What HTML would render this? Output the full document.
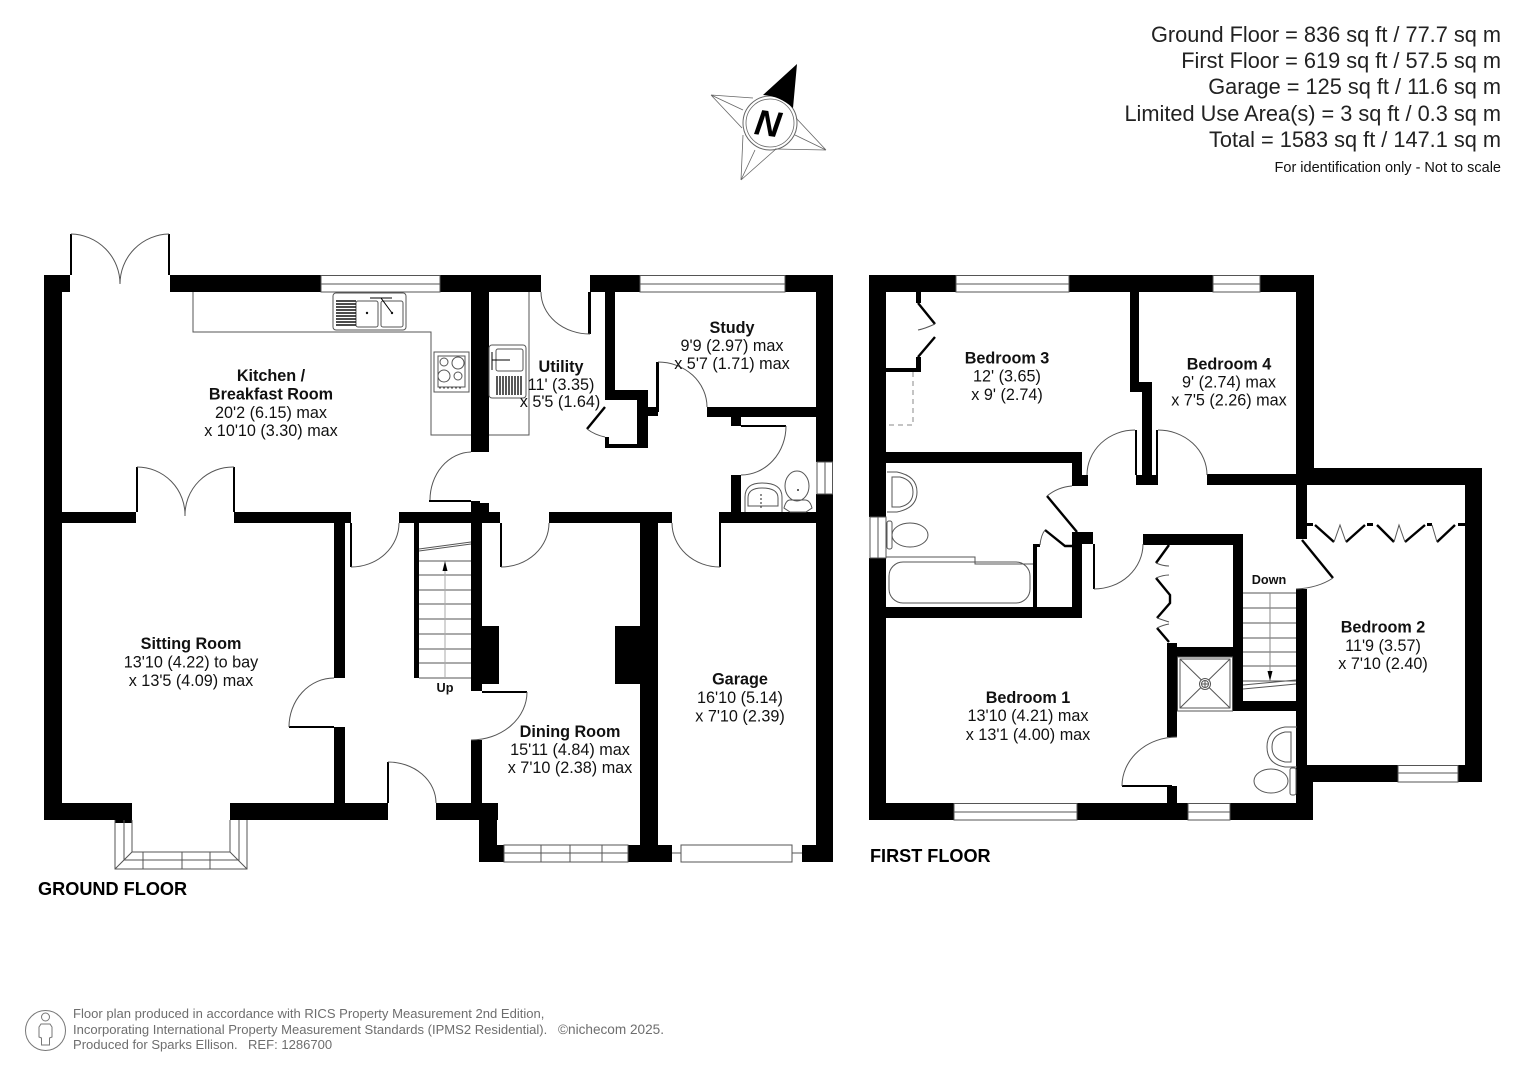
<!DOCTYPE html>
<html><head><meta charset="utf-8"><style>
html,body{margin:0;padding:0;background:#fff}
svg{display:block}
text{font-family:"Liberation Sans",Arial,sans-serif;fill:#111}
.b{font-weight:bold;font-size:16.2px;text-anchor:middle}
.r{font-size:16.2px;text-anchor:middle}
.h{font-size:21.75px;text-anchor:end;fill:#222}
.f{font-size:13.05px;fill:#6e6e6e}
.t{fill:none;stroke:#555;stroke-width:1}
.l{fill:none;stroke:#000;stroke-width:2.4}
.w{fill:#fff;stroke:#555;stroke-width:1}
</style></head><body>
<svg width="1527" height="1080" viewBox="0 0 1527 1080" xmlns="http://www.w3.org/2000/svg">
<rect width="1527" height="1080" fill="#fff"/>

<!-- header -->
<text class="h" x="1501" y="42">Ground Floor = 836 sq ft / 77.7 sq m</text>
<text class="h" x="1501" y="68">First Floor = 619 sq ft / 57.5 sq m</text>
<text class="h" x="1501" y="94">Garage = 125 sq ft / 11.6 sq m</text>
<text class="h" x="1501" y="121">Limited Use Area(s) = 3 sq ft / 0.3 sq m</text>
<text class="h" x="1501" y="147">Total = 1583 sq ft / 147.1 sq m</text>
<text x="1501" y="172" text-anchor="end" font-size="14.5">For identification only - Not to scale</text>

<!-- compass -->
<g fill="none" stroke="#666" stroke-width="0.8">
<path d="M711 95L753 98M711 95L742 128M711 95L743 110M826 150L796 118M826 150L775 149M826 150L795 135M741 180L743 135M741 180L776 149M741 180L755 150"/>
<circle cx="770" cy="123" r="27" stroke-width="1"/><circle cx="770" cy="123" r="24"/>
</g>
<path d="M763 95L797 64L793 108Q780 96 763 95Z" fill="#000"/>
<text x="768" y="136" text-anchor="middle" font-size="36" font-weight="bold" font-style="italic" transform="rotate(8 769 123)" style="fill:#000">N</text>

<!-- GROUND FLOOR walls -->
<g fill="#000">
<rect x="44" y="275" width="26" height="17"/><rect x="170" y="275" width="151" height="17"/>
<rect x="440" y="275" width="101" height="17"/><rect x="590" y="275" width="50" height="17"/><rect x="785" y="275" width="48" height="17"/>
<rect x="44" y="275" width="18" height="545"/>
<rect x="816" y="275" width="17" height="187"/><rect x="816" y="494" width="17" height="368"/>
<rect x="471" y="275" width="18" height="177"/>
<rect x="471" y="501" width="9" height="22"/><rect x="480" y="503" width="9" height="20"/>
<rect x="471" y="512" width="11" height="179"/><rect x="482" y="512" width="18" height="11"/>
<rect x="44" y="512" width="92" height="11"/><rect x="234" y="512" width="117" height="11"/>
<rect x="399" y="512" width="72" height="11"/><rect x="549" y="512" width="123" height="11"/><rect x="719" y="512" width="114" height="11"/>
<rect x="334" y="512" width="11" height="166"/><rect x="334" y="727" width="11" height="76"/>
<rect x="44" y="803" width="88" height="17"/><rect x="115" y="820" width="17" height="3"/>
<rect x="230" y="803" width="158" height="17"/><rect x="436" y="803" width="62" height="17"/>
<rect x="414" y="523" width="5" height="155"/>
<rect x="471" y="740" width="11" height="63"/>
<rect x="479" y="803" width="18" height="59"/><rect x="479" y="845" width="25" height="17"/>
<rect x="628" y="845" width="44" height="17"/><rect x="640" y="512" width="18" height="350"/><rect x="802" y="845" width="31" height="17"/>
<rect x="482" y="626" width="17" height="58"/><rect x="615" y="626" width="25" height="58"/>
<rect x="605" y="292" width="10" height="108"/><rect x="605" y="390" width="43" height="10"/><rect x="637" y="390" width="11" height="58"/>
<rect x="605" y="444" width="43" height="4"/><rect x="605" y="437" width="4" height="11"/>
<rect x="648" y="407" width="10" height="9"/><rect x="656" y="362" width="3" height="50"/>
<rect x="707" y="407" width="109" height="10"/><rect x="731" y="417" width="10" height="9"/><rect x="731" y="475" width="10" height="37"/>
<!-- door leaves -->
<rect x="70" y="234" width="2" height="41"/><rect x="168" y="234" width="2" height="41"/>
<rect x="136" y="467" width="2" height="45"/><rect x="233" y="467" width="2" height="45"/>
<rect x="429" y="500" width="42" height="2"/>
<rect x="350" y="523" width="2" height="44"/><rect x="289" y="726" width="45" height="2"/>
<rect x="387" y="762" width="2" height="41"/><rect x="500" y="523" width="2" height="44"/>
<rect x="719" y="523" width="2" height="44"/><rect x="482" y="691" width="45" height="2"/>
<rect x="588" y="292" width="3" height="42"/><rect x="741" y="425" width="45" height="2"/>
</g>
<path class="l" d="M605 407L587 429"/>
<!-- door arcs -->
<g class="t">
<path d="M71 234A50 50 0 0 1 120 284M169 234A50 50 0 0 0 120 284"/>
<path d="M137 467A48 48 0 0 1 185 516M234 467A48 48 0 0 0 185 516"/>
<path d="M471 452A42 48 0 0 0 430 500"/>
<path d="M351 567A48 44 0 0 0 399 523"/>
<path d="M334 678A45 49 0 0 0 289 727"/>
<path d="M388 762A48 41 0 0 1 436 803"/>
<path d="M501 567A48 44 0 0 0 549 523"/>
<path d="M720 567A48 44 0 0 1 672 523"/>
<path d="M527 692A56 48 0 0 1 471 740"/>
<path d="M541 292A49 42 0 0 0 590 334"/>
<path d="M658 362A49 45 0 0 1 707 407"/>
<path d="M786 426A45 49 0 0 1 741 475"/>
<path d="M587 429Q595 435 605 437"/>
<!-- kitchen counter -->
<path d="M193 292V332H431V435H471"/>
<path d="M489 435H529V292"/>
</g>
<!-- windows -->
<g class="w">
<rect x="321" y="275.5" width="119" height="16.5"/><path d="M321 284H440"/>
<rect x="640" y="275.5" width="145" height="16.5"/><path d="M640 284H785"/>
<rect x="817" y="462" width="15.5" height="32"/><path d="M825 462V494"/>
<rect x="504" y="845" width="124" height="17"/><path d="M504 853H628M541 845V862M570 845V862M602 845V862"/>
<rect x="681" y="845" width="111" height="17"/><path d="M672 853H681M792 853H802"/>
</g>
<!-- bay -->
<g class="t">
<path d="M115 820V869H247V820M132 820V852H230V820M124 820V860H239V820M115 869L132 852M247 869L230 852M143 852V869M182 852V869M210 852V869"/>
</g>
<!-- stairs -->
<g class="t" stroke="#444">
<path d="M419 561H471M419 575H471M419 590H471M419 604H471M419 619H471M419 634H471M419 649H471M419 663H471M419 678H471M419 549L471 542M419 551L471 544"/>
<path d="M445 678V571" stroke="#aaa"/>
</g>
<path d="M445 561L447.500 571H442.500Z" fill="#000"/>
<!-- sink kitchen -->
<g class="t">
<rect x="333" y="293" width="73" height="37" rx="3"/>
<rect x="356" y="301" width="22" height="26" rx="2"/><rect x="381" y="301" width="22" height="26" rx="2"/>
<path d="M381 298H370M381 298H392M381 298L392 313" stroke="#000"/>
<path d="M336 301H356M336 304H356M336 307H356M336 310H356M336 313H356M336 316H356M336 319H356M336 322H356M336 325H356" stroke="#111" stroke-width="1.4"/>
<!-- hob -->
<rect x="434" y="352" width="35" height="40"/><rect x="438" y="356" width="27" height="31"/>
<circle cx="444" cy="362" r="4"/><circle cx="458" cy="363" r="6"/><circle cx="444" cy="376" r="6"/><circle cx="458" cy="376" r="4"/>
<path d="M439 388H462" stroke-dasharray="2 2"/>
<!-- utility sink -->
<rect x="489" y="345" width="37" height="53" rx="3"/><rect x="496" y="349" width="27" height="22" rx="2"/>
<path d="M492 352V370M492 360H510" stroke="#000"/>
<path d="M497 376V395M500 376V395M503 376V395M506 376V395M509 376V395M512 376V395M515 376V395M518 376V395M521 376V395" stroke="#111" stroke-width="1.4"/>
<!-- WC -->
<path d="M745 512V497Q745 483 762 483Q782 483 782 497V512"/>
<path d="M748 506V498Q748 488 762 488Q778 488 778 498V506Z"/><path d="M761 494V510" stroke-dasharray="2 2" stroke="#222"/>
<ellipse cx="797" cy="486" rx="12" ry="15"/><path d="M784 508Q786 500 790 500H805Q810 500 812 508L806 512H790Z"/>
</g>
<circle cx="798" cy="490" r="1" fill="#333"/>
<circle cx="367" cy="313" r="1.200" fill="#111"/><circle cx="392" cy="313" r="1.200" fill="#111"/>

<!-- FIRST FLOOR walls -->
<g fill="#000">
<rect x="869" y="275" width="87" height="17"/><rect x="1069" y="275" width="144" height="17"/><rect x="1260" y="275" width="54" height="17"/>
<rect x="869" y="275" width="17" height="242"/><rect x="869" y="558" width="17" height="262"/>
<rect x="869" y="803" width="85" height="17"/><rect x="1077" y="803" width="111" height="17"/><rect x="1230" y="803" width="83" height="17"/>
<rect x="1296" y="275" width="18" height="210"/>
<rect x="1296" y="468" width="186" height="17"/><rect x="1465" y="468" width="17" height="314"/>
<rect x="1296" y="485" width="11" height="54"/>
<rect x="1296" y="589" width="11" height="176"/><rect x="1296" y="765" width="17" height="55"/>
<rect x="1307" y="765" width="91" height="17"/><rect x="1458" y="765" width="24" height="17"/>
<rect x="1130" y="292" width="9" height="100"/><rect x="1130" y="382" width="22" height="10"/><rect x="1142" y="382" width="10" height="103"/>
<rect x="1136" y="475" width="22" height="10"/>
<rect x="1135" y="430" width="2" height="45"/><rect x="1156" y="430" width="2" height="45"/>
<rect x="1207" y="474" width="89" height="11"/>
<rect x="886" y="452" width="196" height="11"/><rect x="1072" y="452" width="10" height="34"/><rect x="1072" y="475" width="16" height="11"/>
<rect x="1072" y="532" width="10" height="86"/><rect x="1072" y="532" width="21" height="12"/>
<rect x="1093" y="544" width="2" height="45"/>
<rect x="886" y="607" width="196" height="11"/>
<rect x="1143" y="534" width="100" height="11"/><rect x="1233" y="534" width="10" height="177"/><rect x="1233" y="701" width="74" height="10"/>
<rect x="1167" y="643" width="10" height="94"/><rect x="1167" y="647" width="66" height="10"/><rect x="1167" y="786" width="10" height="17"/>
<rect x="1122" y="785" width="50" height="2"/>
<rect x="1033" y="545" width="4" height="62"/><rect x="1033" y="544" width="7" height="3"/>
<rect x="916" y="292" width="5" height="11"/><rect x="886" y="368" width="35" height="4"/><rect x="916" y="357" width="5" height="15"/>
<rect x="1307" y="523" width="6" height="3"/><rect x="1367" y="523" width="6" height="3"/><rect x="1427" y="523" width="5" height="3"/><rect x="1458" y="523" width="7" height="3"/>
</g>
<g class="l">
<path d="M1047 496L1077 532M1045 530L1065 546H1072"/>
<path d="M1302 540L1333 578"/>
<path d="M918 303L935 324M935 337L918 357"/>
<path d="M1315 525L1334 542M1346 542L1365 525M1377 525L1394 542M1405 542L1425 525M1437 542L1455 525"/>
<path d="M1169 545L1156 563M1156 578L1170 595V603L1157 618M1157 628L1169 642"/>
</g>
<g class="t">
<path d="M1135 430A48 45 0 0 0 1087 475"/>
<path d="M1158 430A49 45 0 0 1 1207 475"/>
<path d="M1072 486Q1058 487 1047 496"/>
<path d="M1094 589A49 45 0 0 0 1143 544"/>
<path d="M1177 737A55 49 0 0 0 1122 786"/>
<path d="M1333 578Q1318 588 1296 589"/>
<path d="M1040 545Q1041 535 1045 530"/>
<path d="M935 324Q924 329 918 330M935 337"/>
<path d="M1334 542L1340 525L1346 542M1394 542L1399 525L1405 542M1432 525L1437 542"/>
<path d="M1156 563Q1163 566 1169 566M1156 578Q1163 575 1169 575M1157 618Q1163 620 1169 622M1157 628Q1163 625 1169 624"/>
<path d="M913 372V425H886" stroke-dasharray="5 4" stroke="#888"/>
<path d="M886 557H975V564H1033M975 557"/>
<rect x="889" y="562" width="141" height="41" rx="14"/>
</g>
<g class="w">
<rect x="956" y="275.5" width="113" height="16.5"/><path d="M956 284H1069"/>
<rect x="1213" y="275.5" width="47" height="16.5"/><path d="M1213 284H1260"/>
<rect x="870" y="517" width="16" height="41"/><path d="M878 517V558"/>
<rect x="954" y="803.500" width="123" height="16.500"/><path d="M954 812H1077"/>
<rect x="1188" y="803.500" width="42" height="16.500"/><path d="M1188 812H1230"/>
<rect x="1398" y="765.500" width="60" height="16.500"/><path d="M1398 773H1458"/>
</g>
<g class="t">
<path d="M887 472H897Q917 476 917 492Q917 508 897 512H887"/>
<path d="M892 477H900Q913 480 913 492Q913 504 900 507H892Z"/>
<rect x="887" y="521" width="5" height="28" rx="2"/><ellipse cx="910" cy="535" rx="18" ry="12"/>
<rect x="1177.500" y="657" width="55" height="54"/><rect x="1180" y="659" width="50" height="49"/>
<path d="M1180 659L1230 708M1230 659L1180 708"/>
<circle cx="1205" cy="684" r="5.500" fill="#fff"/><circle cx="1205" cy="684" r="3.500"/><path d="M1202 684H1208M1205 681V687"/>
<path d="M1297 727H1285Q1267 730 1267 747Q1267 764 1285 767H1297"/>
<path d="M1291 732H1285Q1272 735 1272 747Q1272 759 1285 762H1291Z"/>
<ellipse cx="1271" cy="781" rx="17" ry="12"/><rect x="1290" y="768" width="6" height="27" rx="2"/>
</g>
<g class="t" stroke="#444">
<path d="M1243 593H1296M1243 608H1296M1243 623H1296M1243 638H1296M1243 652H1296M1243 666H1296M1243 681H1296M1243 685L1296 680M1243 689L1296 684"/>
<path d="M1270 593V671" stroke="#888"/>
</g>
<path d="M1270 681L1267.500 671H1272.500Z" fill="#000"/>

<!-- room labels -->
<text class="b" x="271" y="381">Kitchen /</text><text class="b" x="271" y="399.500">Breakfast Room</text>
<text class="r" x="271" y="418">20'2 (6.15) max</text><text class="r" x="271" y="436">x 10'10 (3.30) max</text>
<text class="b" x="561" y="372">Utility</text><text class="r" x="561" y="390">11' (3.35)</text><text class="r" x="560" y="407">x 5'5 (1.64)</text>
<text class="b" x="732" y="333">Study</text><text class="r" x="732" y="351">9'9 (2.97) max</text><text class="r" x="732" y="369">x 5'7 (1.71) max</text>
<text class="b" x="191" y="649">Sitting Room</text><text class="r" x="191" y="667.500">13'10 (4.22) to bay</text><text class="r" x="191" y="686">x 13'5 (4.09) max</text>
<text x="445" y="692" text-anchor="middle" font-size="12.700" font-weight="bold">Up</text>
<text class="b" x="570" y="737">Dining Room</text><text class="r" x="570" y="755">15'11 (4.84) max</text><text class="r" x="570" y="773">x 7'10 (2.38) max</text>
<text class="b" x="740" y="684.500">Garage</text><text class="r" x="740" y="703">16'10 (5.14)</text><text class="r" x="740" y="721.500">x 7'10 (2.39)</text>
<text class="b" x="1007" y="363.700">Bedroom 3</text><text class="r" x="1007" y="381.700">12' (3.65)</text><text class="r" x="1007" y="400">x 9' (2.74)</text>
<text class="b" x="1229" y="369.700">Bedroom 4</text><text class="r" x="1229" y="387.700">9' (2.74) max</text><text class="r" x="1229" y="405.700">x 7'5 (2.26) max</text>
<text x="1269" y="584" text-anchor="middle" font-size="12.700" font-weight="bold">Down</text>
<text class="b" x="1383" y="632.500">Bedroom 2</text><text class="r" x="1383" y="651">11'9 (3.57)</text><text class="r" x="1383" y="669">x 7'10 (2.40)</text>
<text class="b" x="1028" y="703">Bedroom 1</text><text class="r" x="1028" y="721">13'10 (4.21) max</text><text class="r" x="1028" y="740">x 13'1 (4.00) max</text>

<text x="38" y="895" font-size="18.150" font-weight="bold" style="fill:#000">GROUND FLOOR</text>
<text x="870" y="862" font-size="18.100" font-weight="bold" style="fill:#000">FIRST FLOOR</text>

<!-- footer -->
<g fill="none" stroke="#777" stroke-width="1">
<circle cx="45.500" cy="1030.500" r="20"/>
<circle cx="45.500" cy="1017" r="4"/>
<path d="M41 1024H50L52 1027V1037L49.500 1038V1045H41.500V1038L39 1037V1027Z"/>
</g>
<text class="f" x="73" y="1018">Floor plan produced in accordance with RICS Property Measurement 2nd Edition,</text>
<text class="f" x="73" y="1034">Incorporating International Property Measurement Standards (IPMS2 Residential).</text>
<text class="f" x="558" y="1034" style="font-size:13.6px">©nichecom 2025.</text>
<text class="f" x="73" y="1049">Produced for Sparks Ellison.</text>
<text class="f" x="248" y="1049">REF: 1286700</text>
</svg>
</body></html>
